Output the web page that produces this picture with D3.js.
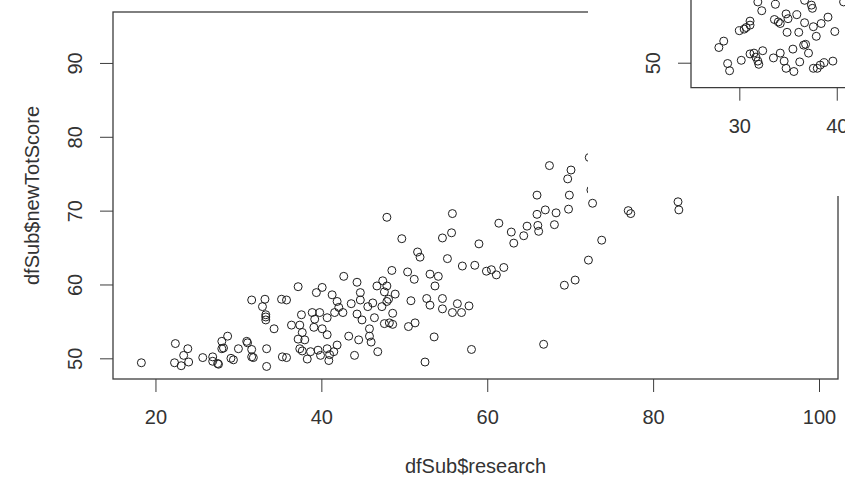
<!DOCTYPE html>
<html>
<head>
<meta charset="utf-8">
<script src="https://cdn.jsdelivr.net/npm/d3@7"></script>
<style>
  body { margin: 0; background: #fff; }
  svg text { font-family: "Liberation Sans", Arial, sans-serif; fill: #333; }
</style>
</head>
<body>
<div id="graphique"></div>
<script>
// nuage principal : dfSub$research / dfSub$newTotScore
var research = [18.3, 22.4, 23.9, 23.4, 22.3, 23.1, 24.0, 25.7, 26.9, 26.9, 27.5, 27.6, 28.0, 28.7, 28.0, 28.2,
    29.1, 29.4, 30.0, 31.0, 31.1, 31.6, 31.6, 31.8, 31.6, 32.9, 33.2, 33.3, 33.3, 33.3, 34.3, 33.4, 33.4,
    35.2, 35.8, 35.3, 35.8, 37.2, 36.4, 37.6, 37.4, 37.7, 37.2, 38.0, 37.4, 37.7, 38.7, 38.3, 38.9, 39.2,
    39.8, 39.1, 40.1, 40.7, 39.6, 39.9, 40.7, 41.0, 40.9, 41.5, 41.9, 39.4, 40.1, 41.3, 41.9, 42.1, 41.6,
    40.7, 42.6, 42.7, 44.3, 44.7, 43.6, 44.7, 44.3, 44.9, 43.3, 44.5, 44.0, 45.8, 45.8, 46.0, 45.6, 46.2,
    46.7, 46.4, 46.8, 47.9, 55.8, 49.7, 54.6, 55.7, 59.0, 51.6, 51.9, 55.2, 57.0, 58.5, 59.9, 60.5, 61.1,
    62.0, 61.4, 62.9, 64.8, 64.4, 63.2, 66.1, 66.2, 68.1, 66.0, 67.0, 68.3, 69.8, 66.0, 69.9, 67.5, 70.1,
    69.7, 72.7, 77.0, 77.3, 83.0, 83.1, 73.8, 72.2, 69.3, 70.6, 48.5, 50.4, 51.2, 53.1, 54.1, 53.7, 47.4,
    47.9, 47.6, 48.9, 48.1, 47.9, 47.3, 50.8, 52.7, 53.1, 54.6, 54.6, 55.8, 56.4, 56.9, 57.8, 48.6, 48.6,
    47.6, 48.2, 50.5, 51.3, 53.6, 58.1, 52.5, 66.8, 72.3, 72.5];
var newTotScore = [49.4, 52.0, 51.3, 50.4, 49.4, 49.0, 49.5, 50.1, 50.2, 49.6, 49.3, 49.2, 52.3, 53.0, 51.3, 51.4,
    50.0, 49.8, 51.3, 52.3, 52.1, 51.2, 50.2, 50.1, 57.9, 57.0, 58.0, 55.9, 55.6, 55.2, 54.0, 51.3, 48.9,
    58.0, 57.9, 50.2, 50.1, 59.7, 54.5, 55.9, 54.5, 53.5, 52.6, 52.5, 51.3, 51.0, 50.9, 49.9, 56.2, 55.3,
    56.2, 54.2, 54.0, 53.2, 51.1, 50.4, 51.3, 50.5, 49.7, 50.9, 51.8, 58.9, 59.6, 58.6, 57.7, 56.9, 56.2,
    55.5, 56.2, 61.1, 60.3, 58.9, 57.4, 57.9, 56.0, 55.2, 53.0, 52.5, 50.4, 54.0, 53.0, 52.2, 57.0, 57.5,
    59.8, 55.5, 50.9, 69.1, 69.6, 66.2, 66.3, 67.0, 65.5, 64.4, 63.7, 63.5, 62.5, 62.6, 61.8, 62.0, 61.3,
    62.3, 68.3, 67.1, 67.9, 66.6, 65.6, 68.0, 67.2, 68.1, 69.5, 70.1, 69.7, 70.2, 72.1, 72.1, 76.1, 75.5,
    74.3, 71.0, 70.0, 69.6, 71.2, 70.1, 66.0, 63.3, 59.9, 60.6, 61.9, 61.7, 60.7, 61.4, 61.1, 59.8, 60.5,
    59.8, 59.0, 58.7, 58.0, 57.7, 57.0, 57.8, 58.1, 57.2, 58.1, 56.7, 56.2, 57.4, 56.2, 57.1, 56.1, 54.6,
    54.7, 54.8, 54.3, 54.8, 52.9, 51.2, 49.5, 51.9, 77.2, 72.8];

// domaines et graduations
var domaineX = [14.88, 102.29];
var domaineY = [47.2, 96.9];
var ticksX = [20, 40, 60, 80, 100];
var ticksY = [50, 60, 70, 80, 90];

// second graphique (fenetre en haut a droite), coupe par le bord
var encartX = [27.9, 28.4, 28.8, 29.0, 30.2, 30.0, 30.5, 30.7, 31.1, 31.1, 31.1, 31.5, 31.7, 31.9, 32.0, 32.4,
    31.9, 32.3, 33.7, 33.5, 34.2, 34.6, 34.8, 35.6, 33.6, 34.0, 34.2, 34.8, 35.0, 34.9, 36.1, 35.5, 36.2,
    35.9, 36.7, 36.7, 37.4, 37.5, 36.6, 36.8, 37.1, 37.6, 37.9, 38.4, 39.1, 37.6, 38.0, 38.3, 38.7, 39.6,
    39.8, 40.7];
var encartY = [51.9, 52.7, 49.9, 49.0, 50.3, 54.0, 54.2, 54.4, 55.2, 54.7, 51.1, 51.2, 50.7, 50.2, 49.8, 51.5,
    57.6, 56.5, 57.3, 50.6, 51.2, 50.2, 49.3, 48.9, 55.4, 55.1, 54.9, 56.1, 55.5, 53.8, 53.8, 51.7, 50.1,
    56.0, 55.0, 57.8, 57.2, 56.8, 52.2, 52.3, 51.2, 54.5, 53.3, 54.9, 55.7, 49.3, 49.3, 49.7, 50.0, 50.2,
    53.9, 57.6];
var encartDomaineX = [25.04, 41.0];
var encartDomaineY = [46.875, 57.84];
var encartTicksX = [30, 40];
var encartTicksY = [50];

var largeur = 845, hauteur = 482;
var svg = d3.select("#graphique").append("svg").attr("width", largeur).attr("height", hauteur);

var couleurTrait = "#3c3c3c";

function dessineNuage(g, xs, ys, sx, sy) {
    g.selectAll("circle")
        .data(xs.map(function(d, i) { return [d, ys[i]]; }))
        .enter()
        .append("circle")
        .attr("cx", function(d) { return sx(d[0]); })
        .attr("cy", function(d) { return sy(d[1]); })
        .attr("r", 4)
        .attr("fill", "none")
        .attr("stroke", "#1e1e1e")
        .attr("stroke-width", 1);
}

function axeBas(g, sx, ticks, y0) {
    var a = g.append("g")
        .attr("transform", "translate(0," + y0 + ")")
        .call(d3.axisBottom(sx).tickValues(ticks).tickSize(13).tickFormat(d3.format("d")));
    a.select(".domain").remove();
    a.selectAll("line").attr("stroke", couleurTrait);
    a.selectAll("text").attr("y", 45).attr("dy", 0).style("font-size", "20px").attr("fill", "#333");
}

function axeGauche(g, sy, ticks, x0) {
    var a = g.append("g")
        .attr("transform", "translate(" + x0 + ",0)")
        .call(d3.axisLeft(sy).tickValues(ticks).tickSize(13).tickFormat(d3.format("d")));
    a.select(".domain").remove();
    a.selectAll("line").attr("stroke", couleurTrait);
    a.selectAll("text")
        .attr("transform", "rotate(-90)")
        .attr("x", 0).attr("y", -31).attr("dy", 0)
        .attr("text-anchor", "middle")
        .style("font-size", "20px").attr("fill", "#333");
}

// ----- graphique principal
var x = d3.scaleLinear().domain(domaineX).range([113, 838]);
var y = d3.scaleLinear().domain(domaineY).range([379, 12]);

var principal = svg.append("g");
axeBas(principal, x, ticksX, 379);
axeGauche(principal, y, ticksY, 113);

principal.append("rect")
    .attr("x", 113).attr("y", 12).attr("width", 838 - 113).attr("height", 379 - 12)
    .attr("fill", "none").attr("stroke", couleurTrait).attr("stroke-width", 1.3);

var clipP = svg.append("clipPath").attr("id", "clipP");
clipP.append("rect").attr("x", 113).attr("y", 12).attr("width", 725).attr("height", 367);
dessineNuage(principal.append("g").attr("clip-path", "url(#clipP)"), research, newTotScore, x, y);

principal.append("text")
    .attr("x", (113 + 838) / 2).attr("y", 473)
    .attr("text-anchor", "middle").style("font-size", "20px")
    .text("dfSub$research");
principal.append("text")
    .attr("transform", "translate(39," + (12 + 379) / 2 + ") rotate(-90)")
    .attr("text-anchor", "middle").style("font-size", "20px")
    .text("dfSub$newTotScore");

// ----- fenetre par dessus (coin haut droit)
svg.append("rect").attr("x", 588).attr("y", 0).attr("width", largeur - 588).attr("height", 196).attr("fill", "#fff");

var encart = svg.append("g");
var ex = d3.scaleLinear().domain(encartDomaineX).range([691, 846.5]);
var ey = d3.scaleLinear().domain(encartDomaineY).range([87.7, 0]);

var clipE = svg.append("clipPath").attr("id", "clipE");
clipE.append("rect").attr("x", 588).attr("y", 0).attr("width", largeur - 588).attr("height", 196);
encart.attr("clip-path", "url(#clipE)");

axeBas(encart, ex, encartTicksX, 87.7);
axeGauche(encart, ey, encartTicksY, 691);
encart.append("path")
    .attr("d", "M691,-2V87.7H" + (largeur + 2))
    .attr("fill", "none").attr("stroke", couleurTrait).attr("stroke-width", 1.3);

var clipE2 = svg.append("clipPath").attr("id", "clipE2");
clipE2.append("rect").attr("x", 691).attr("y", 0).attr("width", largeur - 691).attr("height", 87.7);
dessineNuage(encart.append("g").attr("clip-path", "url(#clipE2)"), encartX, encartY, ex, ey);
</script>
</body>
</html>
